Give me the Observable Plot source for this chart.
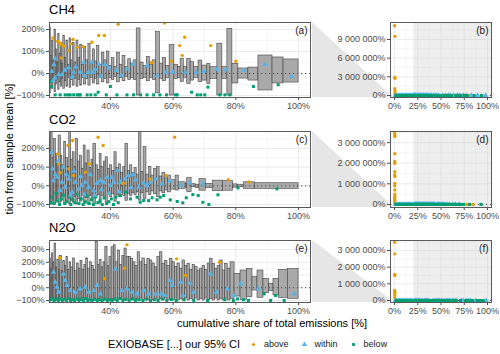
<!DOCTYPE html>
<html><head><meta charset="utf-8">
<script src="https://cdn.jsdelivr.net/npm/d3@7"></script>
<script src="https://cdn.jsdelivr.net/npm/@observablehq/plot@0.6"></script>
<style>
body{margin:0;background:#fff;}
#root{position:relative;width:500px;height:354px;overflow:hidden;font-family:"Liberation Sans",Arial,sans-serif;}
.abs{position:absolute;}
.title{font-size:13px;line-height:16px;color:#000;}
.leg{font-size:9px;color:#1a1a1a;display:flex;align-items:center;}
</style></head><body><div id="root"></div>
<script>
// ---------- data ----------
const gases = ["CH4", "CO2", "N2O"];
const tags = ["(a)", "(b)", "(c)", "(d)", "(e)", "(f)"];
const legendTitle = "EXIOBASE [...] our 95% CI";
const categories = ["above", "within", "below"];
const xTitle = "cumulative share of total emissions [%]";
const yTitle = "tion from sample mean [%]";

const zoomXDomain = [20.6, 103.8];
const zoomXTicks = [40, 60, 80, 100];
const zoomXMinor = [30, 50, 70, 90];
const fullXDomain = [-4.3, 104.3];
const fullXTicks = [0, 25, 50, 75, 100];
const fullXMinor = [12.5, 37.5, 62.5, 87.5];

// bars: [cumShareStart, cumShareEnd, lowerCI, upperCI]
const ch4Bars = [
[20.6,21.0,-90,210],[21.0,21.4,-40,80],[21.4,21.8,-70,150],[21.8,22.2,-30,60],[22.2,22.6,-85,200],
[22.6,23.0,-50,110],[23.0,23.4,-30,50],[23.4,23.8,-75,180],[23.8,24.2,-40,90],[24.2,24.6,-60,140],
[24.6,25.0,-25,45],[25.0,25.5,-70,170],[25.5,26.0,-35,70],[26.0,26.5,-60,150],[26.5,27.0,-20,40],
[27.0,27.5,-65,160],[27.5,28.0,-30,60],[28.0,28.6,-55,140],[28.6,29.2,-25,50],[29.2,29.8,-60,150],
[29.8,30.4,-30,70],[30.4,31.0,-55,130],[31.0,31.6,-20,40],[31.6,32.3,-50,120],[32.3,33.0,-25,60],
[33.0,33.7,-55,135],[33.7,34.4,-20,45],[34.4,35.1,-45,110],[35.1,35.8,-25,55],[35.8,36.5,-50,125],
[36.5,37.3,-20,40],[37.3,38.1,-40,95],[38.1,38.9,-25,60],[38.9,39.7,-45,100],[39.7,40.5,-20,35],
[40.5,41.3,-30,70],[41.3,42.1,-15,30],[42.1,43.0,-40,95],[43.0,43.9,-20,40],[43.9,44.8,-35,80],
[44.8,45.7,-15,30],[45.7,46.6,-30,65],[46.6,47.5,-20,45],[47.5,48.4,-30,60],[48.4,49.6,-100,205],
[49.6,50.6,-25,50],[50.6,51.6,-20,35],[51.6,52.6,-35,75],[52.6,53.6,-20,40],[53.6,54.6,-30,60],
[54.6,55.8,-90,190],[55.8,56.8,-25,45],[56.8,57.8,-35,70],[57.8,58.9,-20,35],[58.9,60.4,-100,130],
[60.4,61.6,-25,40],[61.6,62.4,-20,30],[62.4,63.4,-39,67],[63.4,64.5,-20,30],[64.5,65.6,-47,67],
[65.6,66.7,-32,52],[66.7,68.1,-20,30],[68.1,69.3,-39,59],[69.3,70.9,-32,36],[70.9,71.9,-47,44],
[71.9,74.1,-24,29],[74.1,75.7,-100,135],[75.7,77.3,-24,29],[77.3,78.9,-100,203],[78.9,80.8,-45,44],
[80.8,84.0,-23,23],[84.0,87.2,-32,27],[87.2,91.7,-77,82],[91.7,95.2,-45,73],[95.2,100,-41,64]];

const co2Bars = [
[20.6,21.0,-100,200],[21.0,21.6,-100,287],[21.6,22.0,-80,150],[22.0,22.6,-100,252],[22.6,23.0,-90,170],
[23.0,23.5,-70,120],[23.5,24.2,-100,269],[24.2,24.7,-85,160],[24.7,25.3,-60,110],[25.3,25.9,-100,234],
[25.9,26.5,-80,150],[26.5,26.9,-60,100],[26.9,27.5,-100,291],[27.5,28.0,-75,140],[28.0,28.6,-90,180],
[28.6,29.1,-60,100],[29.1,29.7,-100,252],[29.7,30.3,-70,130],[30.3,30.9,-85,160],[30.9,31.5,-55,90],
[31.5,32.1,-100,216],[32.1,32.7,-65,120],[32.7,33.4,-100,189],[33.4,34.0,-55,95],[34.0,34.6,-75,140],
[34.6,35.4,-100,225],[35.4,36.0,-60,110],[36.0,36.6,-50,85],[36.6,37.2,-95,171],[37.2,37.9,-55,100],
[37.9,38.5,-70,130],[38.5,39.2,-90,153],[39.2,39.9,-50,90],[39.9,40.6,-60,110],[40.6,41.3,-45,80],
[41.3,42.0,-85,180],[42.0,42.7,-50,95],[42.7,43.4,-60,115],[43.4,44.1,-40,70],[44.1,44.8,-55,100],
[44.8,45.6,-80,225],[45.6,46.3,-45,80],[46.3,47.0,-55,110],[47.0,47.7,-40,70],[47.7,48.4,-50,95],
[48.4,49.1,-35,60],[49.1,49.9,-79,290],[49.9,50.6,-40,75],[50.6,51.5,-70,207],[51.5,52.3,-35,60],
[52.3,53.1,-50,100],[53.1,53.9,-30,55],[53.9,54.8,-45,90],[54.8,55.7,-60,100],[55.7,56.6,-30,50],
[56.6,57.5,-40,70],[57.5,58.4,-25,40],[58.4,59.3,-35,55],[59.3,60.8,-20,30],[60.8,61.8,-25,55],
[61.8,64.0,-16,19],[64.0,64.5,-10,10],[64.5,65.9,-34,41],[65.9,67.2,-8,9],[67.2,68.4,-12,6],
[68.4,70.4,-26,36],[70.4,72.7,-12,11],[72.7,75.9,-29,28],[75.9,79.1,-26,25],[79.1,80.5,-10,8],
[80.5,82.6,-8,6],[82.6,86.1,-16,19],[86.1,100,-16,14]];

const n2oBars = [
[20.6,21.0,-100,230],[21.0,21.4,-80,150],[21.4,21.8,-100,270],[21.8,22.2,-90,200],[22.2,22.7,-100,347],
[22.7,23.1,-85,160],[23.1,23.6,-100,220],[23.6,24.0,-90,140],[24.0,24.5,-100,250],[24.5,25.0,-80,130],
[25.0,25.5,-100,210],[25.5,26.0,-90,170],[26.0,26.5,-100,240],[26.5,27.0,-85,140],[27.0,27.5,-100,200],
[27.5,28.1,-90,160],[28.1,28.7,-100,230],[28.7,29.3,-80,130],[29.3,29.9,-100,190],[29.9,30.5,-90,150],
[30.5,31.1,-100,210],[31.1,31.7,-85,140],[31.7,32.3,-100,180],[32.3,32.9,-90,230],[32.9,33.5,-100,150],
[33.5,34.1,-80,200],[34.1,34.7,-100,170],[34.7,35.3,-90,140],[35.3,36.0,-100,360],[36.0,36.6,-90,180],
[36.6,37.2,-100,220],[37.2,37.8,-85,160],[37.8,38.4,-100,200],[38.4,39.1,-100,321],[39.1,39.7,-90,170],
[39.7,40.4,-100,240],[40.4,41.1,-90,318],[41.1,41.7,-100,334],[41.7,42.4,-85,200],[42.4,43.1,-100,292],
[43.1,43.8,-90,180],[43.8,44.5,-100,250],[44.5,45.2,-95,308],[45.2,45.9,-90,240],[45.9,46.6,-100,243],
[46.6,47.3,-85,227],[47.3,48.0,-100,200],[48.0,48.7,-90,170],[48.7,49.4,-100,279],[49.4,50.2,-85,200],
[50.2,51.0,-100,230],[51.0,51.8,-90,180],[51.8,52.6,-100,227],[52.6,53.4,-85,214],[53.4,54.2,-100,190],
[54.2,55.0,-90,160],[55.0,55.8,-100,240],[55.8,56.6,-90,279],[56.6,57.4,-100,188],[57.4,58.2,-85,210],
[58.2,59.0,-100,170],[59.0,59.8,-90,227],[59.8,60.6,-100,200],[60.6,61.4,-85,162],[61.4,62.2,-100,190],
[62.2,63.0,-90,150],[63.0,63.8,-100,214],[63.8,64.6,-85,170],[64.6,65.4,-100,188],[65.4,66.2,-90,140],
[66.2,67.0,-100,180],[67.0,67.8,-85,162],[67.8,68.6,-100,135],[68.6,69.4,-90,150],[69.4,70.2,-100,170],
[70.2,71.0,-85,140],[71.0,71.8,-100,190],[71.8,72.6,-90,227],[72.6,73.4,-100,188],[73.4,74.2,-85,150],
[74.2,75.0,-100,170],[75.0,75.8,-90,214],[75.8,76.6,-100,135],[76.6,77.4,-85,188],[77.4,78.3,-100,150],
[78.3,79.6,-87,200],[79.6,81.5,-69,109],[81.5,83.5,-95,135],[83.5,85.3,-74,148],[85.3,86.9,-22,83],
[86.9,88.8,-79,135],[88.8,90.6,-43,70],[90.6,92.0,-27,31],[92.0,93.8,-61,70],[93.8,96.6,-79,141],
[96.6,100,-87,148]];

// points: [cumShare, deviation %]
const ch4Above = [[21.7,162],[23.2,147],[23.8,138],[24.3,133],[25.1,124],[26.7,105],[27.4,135],[28.1,155],[24.3,71],[29.4,120],[31.3,123],[34.1,142],[36.3,173],[38.1,173],[42.5,224],[53.1,50],[57.3,230],[59.4,56],[62.1,127],[63.7,165],[62.9,82],[72.0,127],[80.0,56]];
const ch4Within = [[21.3,10],[21.8,-32],[22.0,40],[22.4,67],[22.4,-20],[23.5,-5],[24.6,-5],[25.5,15],[26.7,26],[27.8,-15],[28.3,6],[29.0,30],[30.4,6],[31.5,51],[31.8,-10],[33.1,6],[34.1,51],[34.4,6],[35.2,20],[36.3,44],[37.0,-12],[38.4,41],[39.5,25],[41.9,14],[43.5,-8],[45.3,21],[47.2,44],[51.7,36],[54.9,-9],[57.8,6],[59.9,6],[63.9,6],[67.4,6],[69.8,10],[73.9,18],[76.9,18],[82.6,14],[89.3,41],[97.8,-14]];
const ch4Below = [[20.9,-36],[21.1,-59],[22.4,-97],[24.0,-97],[25.6,-97],[26.5,-97],[27.2,-97],[28.3,-97],[29.4,-97],[30.1,-97],[30.4,-97],[32.6,-97],[33.8,-97],[35.2,-97],[36.1,-85],[38.7,-97],[40.0,-59],[42.1,-97],[45.3,-97],[47.4,-97],[49.6,-97],[51.7,-97],[53.8,-97],[55.8,-97],[57.9,-97],[60.8,-97],[61.3,-97],[65.9,-85],[67.7,-97],[68.8,-97],[70.1,-97],[71.1,-62],[74.9,-97],[76.5,-97],[78.1,-97],[85.6,-59],[93.5,-51]];

const co2Above = [[23.2,171],[23.5,118],[24.0,70],[26.5,216],[28.0,243],[26.7,91],[28.3,55],[32.0,73],[33.3,118],[36.1,260],[37.7,216],[44.1,14],[52.6,37],[57.8,55],[60.5,260],[77.6,33],[84.2,21]];
const co2Within = [[21.3,180],[21.6,90],[21.9,28],[22.5,60],[23.0,46],[23.4,130],[24.0,-25],[24.6,19],[25.0,100],[25.6,-7],[26.0,60],[26.7,37],[27.3,-50],[27.8,-34],[28.4,80],[28.8,19],[29.9,-16],[30.5,50],[31.0,2],[31.6,-45],[32.0,19],[33.1,-7],[33.6,60],[34.7,-25],[35.0,-50],[35.8,14],[36.8,28],[37.2,-20],[37.9,19],[38.9,46],[39.5,-40],[40.0,2],[40.5,45],[41.1,19],[42.3,82],[42.8,-30],[43.2,19],[44.8,37],[45.8,55],[46.5,-10],[47.2,60],[48.0,32],[49.0,-7],[50.6,14],[51.7,2],[52.8,20],[54.4,37],[56.5,10],[59.0,25],[62.4,5],[65.3,16],[69.5,11]];
const co2Below = [[21.0,-90],[21.5,-60],[22.0,-95],[22.7,-40],[23.2,-80],[23.8,-100],[24.4,-70],[25.0,-50],[25.5,-95],[26.1,-85],[26.8,-60],[27.4,-100],[28.0,-75],[28.7,-90],[29.3,-45],[30.0,-95],[30.7,-70],[31.3,-100],[32.0,-85],[32.6,-55],[33.3,-95],[34.0,-75],[34.6,-100],[35.3,-60],[36.0,-90],[36.7,-80],[37.4,-100],[38.0,-65],[38.8,-95],[39.5,-85],[40.3,-70],[41.0,-100],[41.8,-60],[42.5,-90],[43.2,-52],[44.8,-34],[46.4,-70],[48.5,-61],[49.5,-88],[50.6,-79],[52.2,-79],[53.3,-64],[54.9,-75],[55.9,-61],[57.0,-52],[59.1,-75],[61.3,-84],[63.1,-91],[64.2,-64],[66.3,-47],[68.0,-52],[69.5,-88],[71.4,-100],[74.3,-48],[80.7,-11],[93.1,-16]];

const n2oAbove = [[23.8,235],[38.2,70],[44.5,154],[45.3,337],[61.1,227],[64.0,96],[74.8,201]];
const n2oWithin = [[21.9,122],[22.4,44],[23.0,5],[23.5,-35],[25.1,109],[25.6,57],[26.2,18],[27.2,-22],[28.8,-35],[30.4,-9],[32.0,5],[33.1,-35],[34.7,-22],[35.8,18],[36.8,-48],[41.6,148],[43.7,-22],[45.3,-9],[46.9,-35],[48.5,-48],[50.6,-22],[52.2,-48],[54.4,-48],[56.2,-48],[57.5,-61],[59.1,57],[59.7,18],[62.4,44],[63.2,-61],[65.5,36],[66.6,-35],[71.9,109],[73.8,-35],[77.3,-9],[79.4,-61],[81.5,31],[87.2,-8],[98.6,-47]];
const n2oBelow = [[21.0,-95],[21.6,-85],[22.1,-100],[22.8,-90],[23.4,-100],[24.0,-88],[24.7,-100],[25.3,-92],[26.0,-100],[26.6,-85],[27.3,-100],[28.0,-95],[28.6,-100],[29.3,-88],[30.0,-100],[30.7,-92],[31.4,-100],[32.1,-85],[32.8,-100],[33.5,-95],[34.2,-100],[35.0,-90],[35.8,-100],[36.6,-95],[37.4,-100],[38.2,-88],[39.0,-100],[39.8,-95],[40.6,-100],[41.4,-90],[42.2,-100],[43.0,-85],[44.0,-100],[45.0,-92],[46.0,-100],[47.0,-88],[48.0,-100],[49.2,-95],[50.4,-100],[51.6,-90],[52.8,-100],[54.0,-95],[55.2,-100],[56.5,-88],[58.0,-100],[59.5,-92],[61.0,-100],[63.5,-95],[66.6,-100],[71.0,-100],[76.5,-95],[79.2,-100],[80.5,-88],[82.4,-95],[84.0,-100],[89.0,-48],[91.1,-100],[92.7,-61],[95.4,-100]];

// extra points only visible in the full-range panels (shares below the zoom window)
const ch4FullAbove = [[0.2,11200000],[0.4,9500000],[0.3,2900000],[0.5,2750000],[0.3,1070000],[0.6,700000],[0.4,450000],[0.8,200000],[1.2,100000]];
const ch4FullWithin = [[1,20],[2.5,-10],[4,30],[5.5,5],[7,-20],[8.5,40],[10,10],[11.5,-5],[13,25],[14.5,0],[16,-15],[17.5,35],[19,10],[20,-8]];
const ch4FullBelow = [[1.5,-100],[3,-95],[4.5,-100],[6,-90],[7.5,-100],[9,-85],[10.5,-100],[12,-95],[13.5,-100],[15,-80],[16.5,-100],[18,-95],[19.5,-100]];
const co2FullAbove = [[0.2,3450000],[0.3,3350000],[0.25,3300000],[0.3,2460000],[0.2,2080000],[0.35,2000000],[0.3,1590000],[0.2,1430000],[0.4,1350000],[0.3,1020000],[0.2,900000],[0.35,700000],[0.3,500000],[0.25,400000],[0.3,300000],[0.2,200000],[0.4,120000],[0.3,60000]];
const co2FullWithin = [[1,30],[2.5,-20],[4,50],[5.5,10],[7,-30],[8.5,20],[10,60],[11.5,-10],[13,30],[14.5,-40],[16,15],[17.5,45],[19,-5]];
const co2FullBelow = [[1.5,-90],[3,-70],[4.5,-100],[6,-60],[7.5,-95],[9,-80],[10.5,-100],[12,-50],[13.5,-85],[15,-100],[16.5,-70],[18,-95],[19.5,-60]];
const n2oFullAbove = [[0.2,3490000],[0.3,2800000],[0.25,1560000],[0.3,1500000],[0.2,600000],[0.35,500000],[0.3,400000],[0.25,300000],[0.3,150000]];
const n2oFullWithin = [[1,40],[2.5,-20],[4,10],[5.5,60],[7,-30],[8.5,20],[10,-10],[11.5,30],[13,-40],[14.5,15],[16,-5],[17.5,50],[19,-20]];
const n2oFullBelow = [[1.5,-100],[3,-90],[4.5,-100],[6,-95],[7.5,-100],[9,-85],[10.5,-100],[12,-95],[13.5,-100],[15,-90],[16.5,-100],[18,-95],[19.5,-100]];

// y axes
const ch4YDomain = [-109, 232], ch4YTicks = [-100, 0, 100, 200], ch4YMinor = [-50, 50, 150];
const co2YDomain = [-116, 291], co2YTicks = [-100, 0, 100, 200], co2YMinor = [-50, 50, 150, 250];
const n2oYDomain = [-116, 371], n2oYTicks = [-100, 0, 100, 200, 300], n2oYMinor = [-50, 50, 150, 250, 350];
const ch4FullYDomain = [-330000, 11730000], ch4FullYTicks = [0, 3000000, 6000000, 9000000], ch4FullYMinor = [1500000, 4500000, 7500000, 10500000];
const co2FullYDomain = [-150000, 3540000], co2FullYTicks = [0, 1000000, 2000000, 3000000], co2FullYMinor = [500000, 1500000, 2500000, 3500000];
const n2oFullYDomain = [-120000, 3600000], n2oFullYTicks = [0, 1000000, 2000000, 3000000], n2oFullYMinor = [500000, 1500000, 2500000, 3500000];

const colors = {above: "#E69F00", within: "#56B4E9", below: "#009E73"};
const symbols = {above: "circle", within: "triangle", below: "square"};

// ---------- drawing ----------
const FONT = '"Liberation Sans", Arial, sans-serif';
const root = document.getElementById("root");
const pctFmt = d => (d < 0 ? "\u2212" : "") + Math.abs(d) + "%";
const bigFmt = d => d3.format(",")(d).replace(/,/g, " ") + "%";
const baseStyle = {fontFamily: FONT, fontSize: "9px", color: "#4d4d4d", background: "transparent", overflow: "visible"};
const GRID = "#ebebeb";

function pointMarks(above, within, below, order) {
  const sets = {above, within, below};
  return order.map(c => Plot.dot(sets[c], {x: d => d[0], y: d => d[1], symbol: symbols[c], fill: colors[c], r: c === "within" ? 2.0 : 1.7, clip: true}));
}

function zoomPanel(cfg) {
  return Plot.plot({
    width: 315, height: cfg.height,
    marginTop: 10, marginRight: 5, marginBottom: 18, marginLeft: 49,
    style: baseStyle,
    x: {domain: zoomXDomain, ticks: zoomXTicks, tickFormat: pctFmt, tickSize: 3, tickPadding: 2, label: null},
    y: {domain: cfg.yDomain, ticks: cfg.yTicks, tickFormat: pctFmt, tickSize: 3, tickPadding: 2, label: null},
    marks: [
      Plot.ruleX(zoomXMinor, {stroke: GRID, strokeWidth: 0.5}),
      Plot.ruleX(zoomXTicks, {stroke: GRID, strokeWidth: 1}),
      Plot.ruleY(cfg.yMinor, {stroke: GRID, strokeWidth: 0.5, clip: true}),
      Plot.ruleY(cfg.yTicks, {stroke: GRID, strokeWidth: 1}),
      Plot.rect(cfg.bars, {x1: d => d[0], x2: d => d[1], y1: d => d[2], y2: d => d[3], fill: "#a9a9a9", stroke: "#444", strokeWidth: 0.6, clip: true}),
      Plot.ruleY([0], {stroke: "#4d4d4d", strokeDasharray: "1.2,2.8", strokeWidth: 1}),
      ...pointMarks(cfg.above, cfg.within, cfg.below, ["below", "within", "above"]),
      Plot.frame({stroke: "#5a5a5a", strokeWidth: 1}),
      Plot.text([cfg.tag], {text: d => d, frameAnchor: "top-right", dx: -3, dy: 4, fontSize: 10, fill: "#1a1a1a", textAnchor: "end", lineAnchor: "top"})
    ]
  });
}

function fullPanel(cfg) {
  return Plot.plot({
    width: 185, height: cfg.height,
    marginTop: 10, marginRight: 9, marginBottom: 18, marginLeft: 75,
    style: baseStyle,
    x: {domain: fullXDomain, ticks: fullXTicks, tickFormat: pctFmt, tickSize: 3, tickPadding: 2, label: null},
    y: {domain: cfg.yDomain, ticks: cfg.yTicks, tickFormat: bigFmt, tickSize: 3, tickPadding: 2, label: null},
    marks: [
      Plot.ruleX(fullXMinor, {stroke: GRID, strokeWidth: 0.5}),
      Plot.ruleX(fullXTicks, {stroke: GRID, strokeWidth: 1}),
      Plot.ruleY(cfg.yMinor, {stroke: GRID, strokeWidth: 0.5, clip: true}),
      Plot.ruleY(cfg.yTicks, {stroke: GRID, strokeWidth: 1}),
      Plot.rect([[zoomXDomain[0], fullXDomain[1]]], {x1: d => d[0], x2: d => d[1], fill: "#d4d4d4", fillOpacity: 0.4}),
      Plot.ruleY([0], {stroke: "#4d4d4d", strokeDasharray: "1.2,2.8", strokeWidth: 1}),
      ...pointMarks(cfg.above, cfg.within, cfg.below, ["above", "within", "below"]),
      Plot.frame({stroke: "#5a5a5a", strokeWidth: 1}),
      Plot.text([cfg.tag], {text: d => d, frameAnchor: "top-right", dx: -3, dy: 4, fontSize: 10, fill: "#1a1a1a", textAnchor: "end", lineAnchor: "top"})
    ]
  });
}

const rows = [
  {gas: gases[0], top: 12, height: 103, titleTop: 2, bars: ch4Bars, above: ch4Above, within: ch4Within, below: ch4Below,
   yDomain: ch4YDomain, yTicks: ch4YTicks, yMinor: ch4YMinor,
   fAbove: ch4FullAbove, fWithin: ch4FullWithin, fBelow: ch4FullBelow, fYDomain: ch4FullYDomain, fYTicks: ch4FullYTicks, fYMinor: ch4FullYMinor},
  {gas: gases[1], top: 121, height: 104, titleTop: 112, bars: co2Bars, above: co2Above, within: co2Within, below: co2Below,
   yDomain: co2YDomain, yTicks: co2YTicks, yMinor: co2YMinor,
   fAbove: co2FullAbove, fWithin: co2FullWithin, fBelow: co2FullBelow, fYDomain: co2FullYDomain, fYTicks: co2FullYTicks, fYMinor: co2FullYMinor},
  {gas: gases[2], top: 230, height: 90, titleTop: 220, bars: n2oBars, above: n2oAbove, within: n2oWithin, below: n2oBelow,
   yDomain: n2oYDomain, yTicks: n2oYTicks, yMinor: n2oYMinor,
   fAbove: n2oFullAbove, fWithin: n2oFullWithin, fBelow: n2oFullBelow, fYDomain: n2oFullYDomain, fYTicks: n2oFullYTicks, fYMinor: n2oFullYMinor}
];

// overlay for connectors (behind panels)
const ns = "http://www.w3.org/2000/svg";
const overlay = document.createElementNS(ns, "svg");
overlay.setAttribute("width", 500); overlay.setAttribute("height", 354);
overlay.setAttribute("class", "abs"); overlay.style.left = "0px"; overlay.style.top = "0px";
root.appendChild(overlay);

function lin(s, v) { const [d0, d1] = s.domain, [r0, r1] = s.range; return r0 + (v - d0) / (d1 - d0) * (r1 - r0); }

const zoomLeft = 0, fullLeft = 315;
rows.forEach((r, i) => {
  const a = zoomPanel({height: r.height, bars: r.bars, above: r.above, within: r.within, below: r.below,
    yDomain: r.yDomain, yTicks: r.yTicks, yMinor: r.yMinor, tag: tags[2 * i]});
  const b = fullPanel({height: r.height, above: r.above.concat(r.fAbove), within: r.within.concat(r.fWithin),
    below: r.below.concat(r.fBelow), yDomain: r.fYDomain, yTicks: r.fYTicks, yMinor: r.fYMinor, tag: tags[2 * i + 1]});
  a.classList.add("abs"); a.style.left = zoomLeft + "px"; a.style.top = r.top + "px";
  b.classList.add("abs"); b.style.left = fullLeft + "px"; b.style.top = r.top + "px";
  root.appendChild(a); root.appendChild(b);

  // connector wedge from zoom panel to full panel
  const ax = a.scale("x"), ay = a.scale("y"), bx = b.scale("x"), by = b.scale("y");
  const axR = zoomLeft + Math.max(...ax.range) + 2;
  const ayT = r.top + Math.min(...ay.range), ayB = r.top + Math.max(...ay.range);
  const bxL = fullLeft + Math.min(...bx.range) - 2;
  const byT = r.top + lin(by, r.yDomain[1]) - 2.5, byB = r.top + Math.max(...by.range);
  const poly = document.createElementNS(ns, "polygon");
  poly.setAttribute("points", `${axR},${ayT} ${bxL},${byT} ${bxL},${byB} ${axR},${ayB}`);
  poly.setAttribute("fill", "#e6e6e6");
  overlay.appendChild(poly);

  const t = document.createElement("div");
  t.className = "abs title"; t.textContent = r.gas;
  t.style.left = "49px"; t.style.top = r.titleTop + "px";
  root.appendChild(t);
});

// axis titles
const xt = document.createElement("div");
xt.className = "abs"; xt.textContent = xTitle;
Object.assign(xt.style, {left: "0px", width: "544px", top: "316px", textAlign: "center", fontSize: "11px", color: "#000", lineHeight: "14px"});
root.appendChild(xt);

const yt = document.createElement("div");
yt.className = "abs"; yt.textContent = yTitle;
Object.assign(yt.style, {left: "9px", top: "149px", transform: "translate(-50%,-50%) rotate(-90deg)", fontSize: "11px", color: "#000", whiteSpace: "nowrap", lineHeight: "14px"});
root.appendChild(yt);

// legend
const leg = document.createElement("div");
leg.className = "abs leg";
Object.assign(leg.style, {left: "108px", top: "337px", height: "14px"});
const lt = document.createElement("span");
lt.textContent = legendTitle; lt.style.fontSize = "11px"; lt.style.color = "#000"; lt.style.marginRight = "7px";
leg.appendChild(lt);
categories.forEach(c => {
  const sw = Plot.plot({
    width: 12, height: 14, margin: 0, axis: null,
    x: {domain: [0, 1]}, y: {domain: [0, 1]},
    style: {background: "transparent"},
    marks: [Plot.dot([[0.5, 0.5]], {x: d => d[0], y: d => d[1], symbol: symbols[c], fill: colors[c], r: c === "within" ? 2.0 : 1.6})]
  });
  sw.style.display = "inline-block";
  const wrap = document.createElement("span");
  wrap.style.display = "flex"; wrap.style.alignItems = "center"; wrap.style.marginRight = "9px";
  wrap.appendChild(sw);
  const s = document.createElement("span"); s.textContent = c; s.style.marginLeft = "5px"; s.style.fontSize = "9px";
  wrap.appendChild(s);
  leg.appendChild(wrap);
});
root.appendChild(leg);
</script></body></html>
